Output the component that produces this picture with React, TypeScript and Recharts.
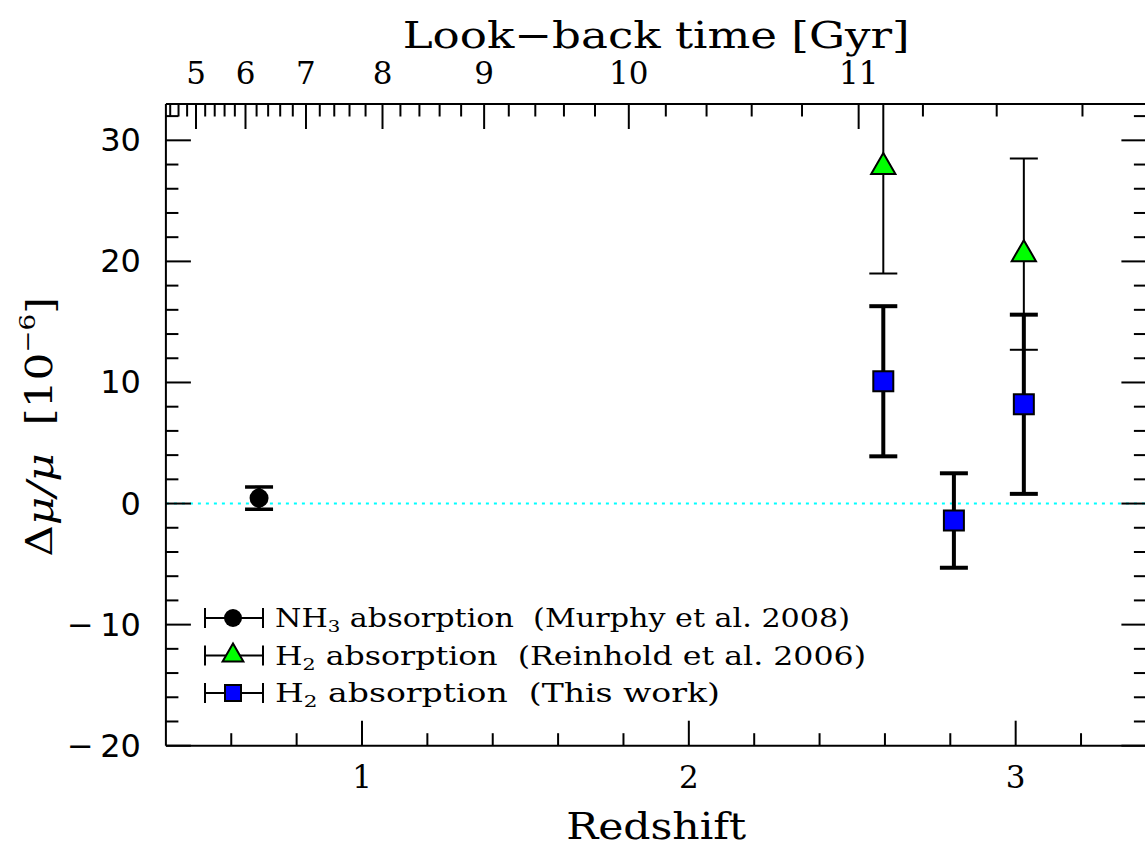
import * as R from "recharts";
import { ComposedChart, Scatter, XAxis, YAxis, ErrorBar, ReferenceLine, Legend } from "recharts";

// Δμ/μ in units of 1e-6, one-sigma errors
const nh3Data = [{ z: 0.685, dmu: 0.45, err: 0.92 }];
const reinholdData = [
  { z: 2.595, dmu: 27.8, err: 8.8 },
  { z: 3.025, dmu: 20.6, err: 7.9 },
];
const thisWorkData = [
  { z: 2.595, dmu: 10.1, err: 6.2 },
  { z: 2.811, dmu: -1.4, err: 3.9 },
  { z: 3.025, dmu: 8.2, err: 7.4 },
];

const legendDefs = [
  { name: "NH3 absorption (Murphy et al. 2008)", shape: "circle", chem: "NH", sub: "3", rest: " absorption  (Murphy et al. 2008)", len: 575 },
  { name: "H2 absorption (Reinhold et al. 2006)", shape: "triangle", chem: "H", sub: "2", rest: " absorption  (Reinhold et al. 2006)", len: 591 },
  { name: "H2 absorption (This work)", shape: "square", chem: "H", sub: "2", rest: " absorption  (This work)", len: 445 },
];

const zDomain = [0.4, 3.4];
const yDomain = [-20, 33];
const bottomTicks = Array.from({ length: 14 }, (_, i) => (i + 3) / 5);
const yTicks = Array.from({ length: 27 }, (_, i) => -20 + i * 2);
const lookbackLabels = [5, 6, 7, 8, 9, 10, 11];

// look-back time axis, flat LCDM
const H0 = 70;
const OM = 0.29;
const OL = 0.71;
const pref = (2 / (3 * Math.sqrt(OL))) * (977.8 / H0);
const kk = Math.sqrt(OL / OM);
const ageNow = pref * Math.asinh(kk);
const zAtLookback = (t: number) => Math.pow(Math.sinh((ageNow - t) / pref) / kk, -2 / 3) - 1;
const topTickItems = Array.from({ length: 37 }, (_, i) => (i + 22) / 5)
  .map((t) => ({ t, z: zAtLookback(t) }))
  .filter((d) => d.z > zDomain[0] && d.z < zDomain[1]);
const topTicks = topTickItems.map((d) => d.z);

const SERIF = "'DejaVu Serif', serif";
const SANS = "'DejaVu Sans', sans-serif";
const MAJOR = 25;
const MINOR = 12.5;
const CLIP_ID = "plot-area-clip";

const usePlotArea: any = (R as any).usePlotArea;
const PlotClip = () => {
  const area = usePlotArea ? usePlotArea() : null;
  if (!area) return null;
  return (
    <defs>
      <clipPath id={CLIP_ID}>
        <rect x={area.x} y={area.y} width={area.width} height={area.height} />
      </clipPath>
    </defs>
  );
};

const drawMarker = (kind: string, cx: number, cy: number, legend = false) => {
  if (kind === "circle") return <circle cx={cx} cy={cy} r={legend ? 9 : 9.5} fill="#000" />;
  if (kind === "triangle") {
    const r = legend ? 12 : 14;
    const h = r * 0.866;
    return (
      <polygon
        points={`${cx},${cy - r} ${cx - h},${cy + r / 2} ${cx + h},${cy + r / 2}`}
        fill="#00ff00"
        stroke="#000"
        strokeWidth={2}
      />
    );
  }
  const s = legend ? 8 : 10;
  return <rect x={cx - s} y={cy - s} width={2 * s} height={2 * s} fill="#0000ff" stroke="#000" strokeWidth={2} />;
};

const LeftTick = (p: any) => {
  const v = p.payload.value;
  const major = v % 10 === 0;
  return (
    <g>
      <line x1={p.x} y1={p.y} x2={p.x + (major ? MAJOR : MINOR)} y2={p.y} stroke="#000" strokeWidth={2} />
      {major && (
        <text x={p.x - 25} y={p.y} textAnchor="end" dominantBaseline="central" fontFamily={SANS} fontSize={32} fill="#000" style={{ whiteSpace: "pre" }}>
          {v < 0 ? `−\u2009${-v}` : v}
        </text>
      )}
    </g>
  );
};

const RightTick = (p: any) => {
  const v = p.payload.value;
  const major = v % 10 === 0;
  return <line x1={p.x} y1={p.y} x2={p.x - (major ? MAJOR : MINOR)} y2={p.y} stroke="#000" strokeWidth={2} />;
};

const BottomTick = (p: any) => {
  const v = p.payload.value;
  const major = Math.abs(v - Math.round(v)) < 1e-6;
  return (
    <g>
      <line x1={p.x} y1={p.y} x2={p.x} y2={p.y - (major ? MAJOR : MINOR)} stroke="#000" strokeWidth={2} />
      {major && (
        <text x={p.x} y={p.y + 31} textAnchor="middle" dominantBaseline="central" fontFamily={SERIF} fontSize={31} fill="#000">
          {Math.round(v)}
        </text>
      )}
    </g>
  );
};

const TopTick = (p: any) => {
  const item = topTickItems.find((d) => Math.abs(d.z - p.payload.value) < 1e-9);
  const t = item ? item.t : 0;
  const major = Math.abs(t - Math.round(t)) < 1e-6;
  return (
    <g>
      <line x1={p.x} y1={p.y} x2={p.x} y2={p.y + (major ? MAJOR : MINOR)} stroke="#000" strokeWidth={2} />
      {major && lookbackLabels.includes(Math.round(t)) && (
        <text x={p.x} y={p.y - 31} textAnchor="middle" dominantBaseline="central" fontFamily={SERIF} fontSize={31} fill="#000">
          {Math.round(t)}
        </text>
      )}
    </g>
  );
};

const renderLegend = (props: any) => {
  const entries = [...(props.payload ?? [])].sort(
    (a: any, b: any) => legendDefs.findIndex((d) => d.name === a.value) - legendDefs.findIndex((d) => d.name === b.value)
  );
  return (
    <svg width={720} height={120} style={{ display: "block" }}>
      {entries.map((entry: any, i: number) => {
        const def = legendDefs.find((d) => d.name === entry.value);
        if (!def) return null;
        const cy = 23 + i * 37.5;
        return (
          <g key={def.name}>
            <line x1={15} x2={73} y1={cy} y2={cy} stroke="#000" strokeWidth={2} />
            <line x1={15} x2={15} y1={cy - 10} y2={cy + 10} stroke="#000" strokeWidth={2} />
            <line x1={73} x2={73} y1={cy - 10} y2={cy + 10} stroke="#000" strokeWidth={2} />
            {drawMarker(def.shape, 43, cy, true)}
            <text
              x={85}
              y={cy}
              dominantBaseline="central"
              fontFamily={SERIF}
              fontSize={26}
              fill="#000"
              textLength={def.len}
              lengthAdjust="spacingAndGlyphs"
              style={{ whiteSpace: "pre" }}
            >
              {def.chem}
              <tspan dy={8} fontSize={17}>{def.sub}</tspan>
              <tspan dy={-8}>{def.rest}</tspan>
            </text>
          </g>
        );
      })}
    </svg>
  );
};

export default function App() {
  return (
    <div style={{ position: "absolute", left: 0, top: 0, width: 1145, height: 848, overflow: "hidden", background: "#fff" }}>
      <ComposedChart
        width={1150}
        height={848}
        data={topTickItems}
        margin={{ top: 103, right: 2.6, bottom: 101.3, left: 164.9 }}
      >
        <PlotClip />
        <XAxis
          xAxisId="z"
          dataKey="z"
          type="number"
          orientation="bottom"
          domain={zDomain}
          allowDataOverflow
          ticks={bottomTicks}
          interval={0}
          height={1}
          tickSize={0}
          tickMargin={0}
          tickLine={false}
          axisLine={{ stroke: "#000", strokeWidth: 2 }}
          tick={(p: any) => <BottomTick {...p} />}
          label={(p: any) => (
            <text
              x={p.viewBox.x + p.viewBox.width / 2}
              y={826}
              textAnchor="middle"
              dominantBaseline="central"
              fontFamily={SERIF}
              fontSize={37}
              fill="#000"
              textLength={180}
              lengthAdjust="spacingAndGlyphs"
            >
              Redshift
            </text>
          )}
        />
        <XAxis
          xAxisId="top"
          dataKey="z"
          type="number"
          orientation="top"
          domain={zDomain}
          allowDataOverflow
          ticks={topTicks}
          interval={0}
          height={1}
          tickSize={0}
          tickMargin={0}
          tickLine={false}
          axisLine={{ stroke: "#000", strokeWidth: 2 }}
          tick={(p: any) => <TopTick {...p} />}
          label={(p: any) => (
            <text
              x={p.viewBox.x + p.viewBox.width / 2}
              y={35}
              textAnchor="middle"
              dominantBaseline="central"
              fontFamily={SERIF}
              fontSize={37}
              fill="#000"
              textLength={507}
              lengthAdjust="spacingAndGlyphs"
              style={{ whiteSpace: "pre" }}
            >
              Look−back time [Gyr]
            </text>
          )}
        />
        <YAxis
          yAxisId="y"
          type="number"
          orientation="left"
          domain={yDomain}
          allowDataOverflow
          ticks={yTicks}
          interval={0}
          width={1}
          tickSize={0}
          tickMargin={0}
          tickLine={false}
          axisLine={{ stroke: "#000", strokeWidth: 2 }}
          tick={(p: any) => <LeftTick {...p} />}
          label={(p: any) => {
            const cy = p.viewBox.y + p.viewBox.height / 2 + 2;
            return (
              <text
                x={40}
                y={cy}
                transform={`rotate(-90 40 ${cy})`}
                textAnchor="middle"
                dominantBaseline="central"
                fontFamily={SERIF}
                fontSize={37}
                fill="#000"
                textLength={260}
                lengthAdjust="spacingAndGlyphs"
                style={{ whiteSpace: "pre" }}
              >
                Δ<tspan fontStyle="italic">μ/μ</tspan>  [10<tspan dy={-13} fontSize={22}>−6</tspan><tspan dy={13}>]</tspan>
              </text>
            );
          }}
        />
        <YAxis
          yAxisId="r"
          type="number"
          orientation="right"
          domain={yDomain}
          allowDataOverflow
          ticks={yTicks}
          interval={0}
          width={1}
          tickSize={0}
          tickMargin={0}
          tickLine={false}
          axisLine={{ stroke: "#000", strokeWidth: 2 }}
          tick={(p: any) => <RightTick {...p} />}
        />
        <ReferenceLine xAxisId="z" yAxisId="y" y={0} stroke="#00ffff" strokeWidth={2} strokeDasharray="3 5" />
        <Scatter
          name={legendDefs[0].name}
          data={nh3Data}
          xAxisId="z"
          yAxisId="y"
          dataKey="dmu"
          fill="#000"
          isAnimationActive={false}
          shape={(p: any) => drawMarker("circle", p.cx, p.cy)}
        >
          <ErrorBar dataKey="err" direction="y" width={14} strokeWidth={3.5} stroke="#000" clipPath={`url(#${CLIP_ID})`} />
        </Scatter>
        <Scatter
          name={legendDefs[1].name}
          data={reinholdData}
          xAxisId="z"
          yAxisId="y"
          dataKey="dmu"
          fill="#00ff00"
          isAnimationActive={false}
          shape={(p: any) => drawMarker("triangle", p.cx, p.cy)}
        >
          <ErrorBar dataKey="err" direction="y" width={14} strokeWidth={2} stroke="#000" clipPath={`url(#${CLIP_ID})`} />
        </Scatter>
        <Scatter
          name={legendDefs[2].name}
          data={thisWorkData}
          xAxisId="z"
          yAxisId="y"
          dataKey="dmu"
          fill="#0000ff"
          isAnimationActive={false}
          shape={(p: any) => drawMarker("square", p.cx, p.cy)}
        >
          <ErrorBar dataKey="err" direction="y" width={14} strokeWidth={4} stroke="#000" clipPath={`url(#${CLIP_ID})`} />
        </Scatter>
        <Legend
          layout="vertical"
          align="center"
          verticalAlign="middle"
          content={renderLegend}
          wrapperStyle={{ position: "absolute", left: 190, top: 595, width: 720, height: 120 }}
        />
      </ComposedChart>
    </div>
  );
}
